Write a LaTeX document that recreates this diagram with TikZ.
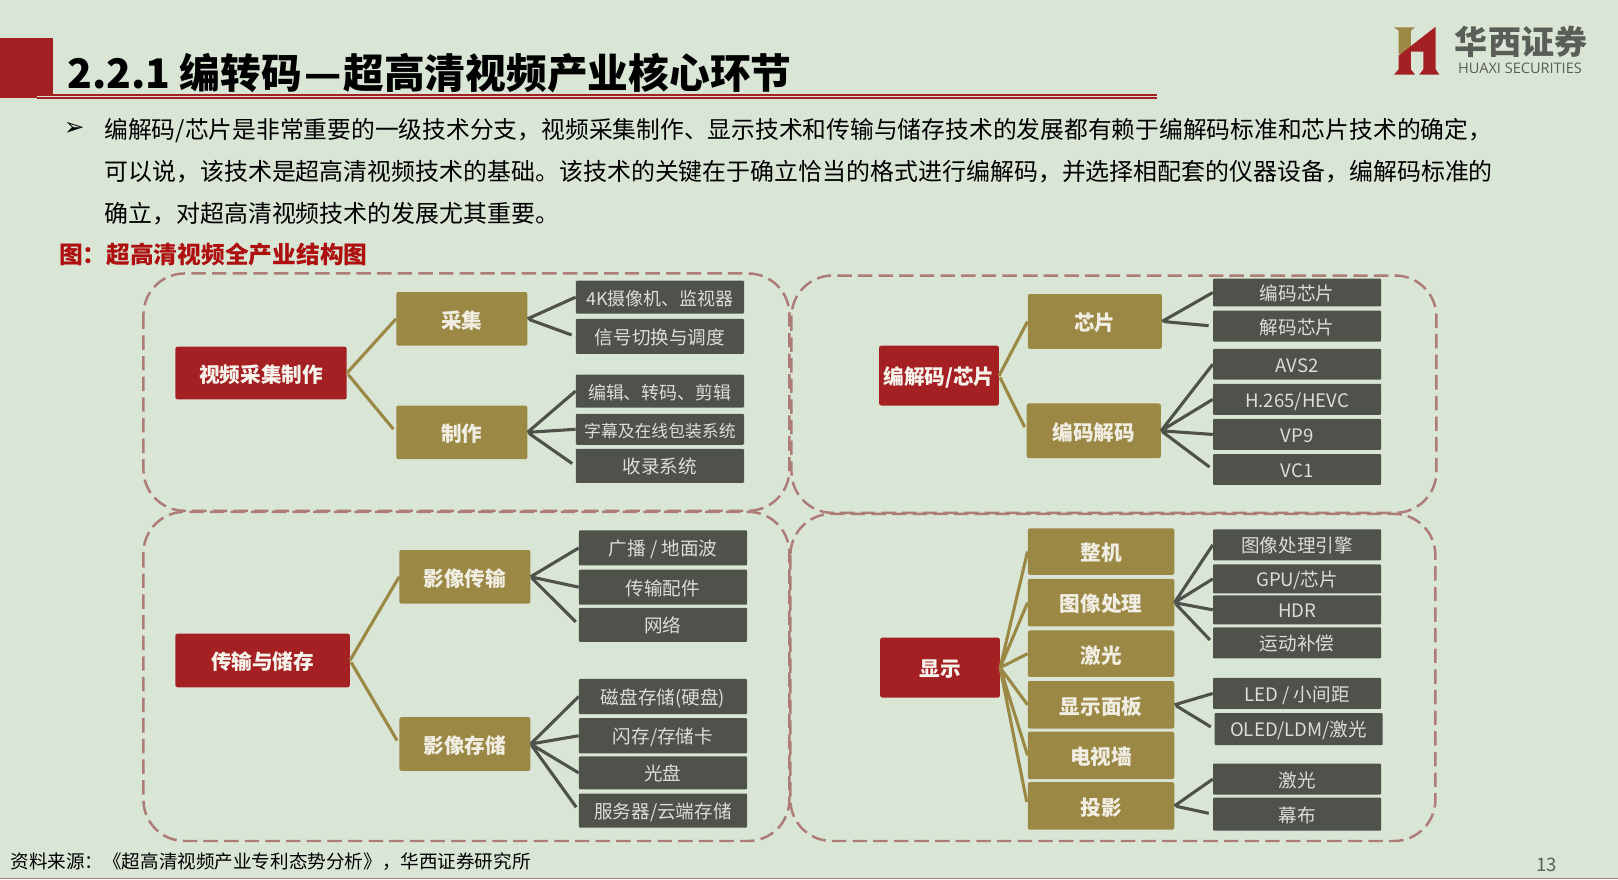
\documentclass[tikz,border=0pt]{standalone}
\usepackage{fontspec,xcolor}
\setmainfont{Noto Sans CJK SC}
\newfontfamily\symfont{DejaVu Sans}
\newfontfamily\latinfont{Open Sans}
\definecolor{bgcol}{RGB}{217,230,214}
\definecolor{redcol}{RGB}{165,32,34}
\definecolor{goldcol}{RGB}{155,136,69}
\definecolor{darkcol}{RGB}{79,82,75}
\definecolor{dashcol}{RGB}{174,124,118}
\definecolor{capcol}{RGB}{174,15,15}
\definecolor{logocol}{RGB}{90,94,88}
\tikzset{
    panel/.style={draw=dashcol,line width=2.4pt,rounded corners=40pt,dash pattern=on 14pt off 6pt},
    redbox/.style={fill=redcol,rounded corners=2pt,inner sep=0pt,text height=19pt,text depth=1pt,text=white!90!goldcol,font=\fontsize{20}{24}\selectfont\bfseries},
    goldbox/.style={fill=goldcol,rounded corners=2pt,inner sep=0pt,text height=19pt,text depth=1pt,text=white!85!goldcol,font=\fontsize{20}{24}\selectfont\bfseries},
    leafbox/.style={fill=darkcol,rounded corners=1pt,inner sep=0pt,text height=16.6pt,text depth=1.2pt,text=white!80!darkcol,minimum width=163pt,font=\fontsize{18}{22}\selectfont},
    goldline/.style={draw=goldcol,line width=3pt,shorten <=2pt,shorten >=4pt},
    darkline/.style={draw=darkcol,line width=3pt,shorten <=2pt,shorten >=4pt},
    bodytext/.style={anchor=base west,inner sep=0pt,font=\fontsize{23.2}{28}\selectfont}
}
\begin{document}
\begin{tikzpicture}[x=1pt,y=-1pt]
    \useasboundingbox[fill=bgcol] (0,0) rectangle (1568,852);
    % heading
    \fill[redcol] (0,37) rectangle (51,95);
    \coordinate (rule-l) at (36,93.5);
    \coordinate (rule-r) at (1121,93.5);
    \draw[redcol,line width=2.2pt,double=bgcol,double distance=.6pt] (rule-l) -- (rule-r);
    \node[anchor=west,inner sep=0pt,font=\fontsize{39.5}{44}\selectfont\bfseries] (title) at (65,71) {2.2.1 编转码\kern2pt—\kern2pt超高清视频产业核心环节};
    \node[font=\fontsize{24}{26}\selectfont\symfont] (bullet) at (72,125) {➢};
    \node[bodytext,font=\fontsize{23.03}{28}\selectfont] (line1) at (101,134) {编解码/芯片是非常重要的一级技术分支，视频采集制作、显示技术和传输与储存技术的发展都有赖于编解码标准和芯片技术的确定，};
    \node[bodytext] (line2) at (101,175) {可以说，该技术是超高清视频技术的基础。该技术的关键在于确立恰当的格式进行编解码，并选择相配套的仪器设备，编解码标准的};
    \node[bodytext] (line3) at (101,216) {确立，对超高清视频技术的发展尤其重要。};
    \node[anchor=west,inner sep=0pt,text=capcol,font=\fontsize{23}{28}\selectfont\bfseries] (caption) at (57,247) {图：超高清视频全产业结构图};
    % logo
    \begin{scope}[shift={(1259.8,0)},x=.323pt,y=-.323pt]
        \fill[goldcol] (282,82) -- (345,82) -- (333,92) -- (333,146) -- (296,164) -- (296,92) -- cycle;
        \fill[redcol] (296,167) -- (407,80) -- (407,208) -- (418,224) -- (358,224) -- (370,208) -- (370,155) -- (333,155) -- (333,208) -- (345,224) -- (282,224) -- (296,208) -- cycle;
    \end{scope}
    \node[text=logocol,inner sep=0pt,font=\fontsize{32}{36}\selectfont\bfseries] (logo-cn) at (1474,41) {华西证券};
    \node[text=logocol,inner sep=0pt,font=\fontsize{14.1}{16}\selectfont\latinfont] (logo-en) at (1473,66) {HUAXI SECURITIES};
    % panels
    \draw[panel] (139,265) rectangle (765,495);
    \draw[panel] (767,267) rectangle (1392,497);
    \draw[panel] (139,496) rectangle (765,815);
    \draw[panel] (766,498) rectangle (1391,815);
    % top left
    \node[redbox,minimum width=166pt,minimum height=51pt] (capture) at (253,361.5) {视频采集制作};
    \node[goldbox,minimum width=127pt,minimum height=52pt] (collect) at (447.5,309) {采集};
    \node[goldbox,minimum width=127pt,minimum height=52pt] (make) at (447.5,419) {制作};
    \node[leafbox,minimum height=32pt,font=\fontsize{17.4}{22}\selectfont] (camera) at (639.5,288) {4K摄像机、监视器};
    \node[leafbox,minimum height=34pt] (switch) at (639.5,326) {信号切换与调度};
    \node[leafbox,minimum height=32pt,font=\fontsize{17.4}{22}\selectfont] (edit) at (639.5,379) {编辑、转码、剪辑};
    \node[leafbox,minimum height=30pt,font=\fontsize{16.3}{20}\selectfont] (subtitle) at (639.5,416) {字幕及在线包装系统};
    \node[leafbox,minimum height=33pt] (record) at (639.5,451.5) {收录系统};
    \draw[goldline] (capture.east) -- (collect.west) (capture.east) -- (make.west);
    \draw[darkline] (collect.east) -- (camera.west) (collect.east) -- (switch.west);
    \draw[darkline] (make.east) -- (edit.west) (make.east) -- (subtitle.west) (make.east) -- (record.west);
    % top right
    \node[redbox,minimum width=116pt,minimum height=58pt] (codec) at (910,364) {编解码/芯片};
    \node[goldbox,minimum width=130pt,minimum height=53pt] (chip) at (1061,311.5) {芯片};
    \node[goldbox,minimum width=130pt,minimum height=53pt] (coding) at (1060,417.5) {编码解码};
    \node[leafbox,minimum height=27pt] (encchip) at (1257,283.5) {编码芯片};
    \node[leafbox,minimum height=30pt] (decchip) at (1257,316) {解码芯片};
    \node[leafbox,minimum height=30pt] (avs) at (1257,353) {AVS2};
    \node[leafbox,minimum height=30pt] (hevc) at (1257,387) {H.265/HEVC};
    \node[leafbox,minimum height=30pt] (vpnine) at (1257,421) {VP9};
    \node[leafbox,minimum height=30pt] (vcone) at (1257,455) {VC1};
    \draw[goldline] (codec.east) -- (chip.west) (codec.east) -- (coding.west);
    \draw[darkline] (chip.east) -- (encchip.west) (chip.east) -- (decchip.west);
    \draw[darkline] (coding.east) -- (avs.west) (coding.east) -- (hevc.west) (coding.east) -- (vpnine.west) (coding.east) -- (vcone.west);
    % bottom left
    \node[redbox,minimum width=169pt,minimum height=52pt] (transfer) at (254.5,640) {传输与储存};
    \node[goldbox,minimum width=127pt,minimum height=52pt] (trans) at (450.5,559) {影像传输};
    \node[goldbox,minimum width=127pt,minimum height=52pt] (store) at (450.5,721) {影像存储};
    \node[leafbox,minimum height=34pt] (air) at (642.5,531) {广播 / 地面波};
    \node[leafbox,minimum height=34pt] (parts) at (642.5,569) {传输配件};
    \node[leafbox,minimum height=33pt] (net) at (642.5,605.5) {网络};
    \node[leafbox,minimum height=34pt] (disk) at (642.5,675) {磁盘存储(硬盘)};
    \node[leafbox,minimum height=34pt] (flash) at (642.5,713) {闪存/存储卡};
    \node[leafbox,minimum height=32pt] (optical) at (642.5,749) {光盘};
    \node[leafbox,minimum height=33pt] (server) at (642.5,785.5) {服务器/云端存储};
    \draw[goldline] (transfer.east) -- (trans.west) (transfer.east) -- (store.west);
    \draw[darkline] (trans.east) -- (air.west) (trans.east) -- (parts.west) (trans.east) -- (net.west);
    \draw[darkline] (store.east) -- (disk.west) (store.east) -- (flash.west) (store.east) -- (optical.west) (store.east) -- (server.west);
    % bottom right
    \node[redbox,minimum width=116pt,minimum height=58pt] (display) at (911,647) {显示};
    \node[goldbox,minimum width=142pt,minimum height=45pt] (whole) at (1067,534.5) {整机};
    \node[goldbox,minimum width=142pt,minimum height=46pt] (image) at (1067,584) {图像处理};
    \node[goldbox,minimum width=142pt,minimum height=45pt] (laser) at (1067,633.5) {激光};
    \node[goldbox,minimum width=142pt,minimum height=46pt] (screen) at (1067,683) {显示面板};
    \node[goldbox,minimum width=142pt,minimum height=46pt] (tvwall) at (1067,732) {电视墙};
    \node[goldbox,minimum width=142pt,minimum height=46pt] (project) at (1067,781) {投影};
    \node[leafbox,minimum height=30pt] (engine) at (1257,528) {图像处理引擎};
    \node[leafbox,minimum height=28pt] (gpu) at (1257,561) {GPU/芯片};
    \node[leafbox,minimum height=28pt] (hdr) at (1257,591) {HDR};
    \node[leafbox,minimum height=30pt] (motion) at (1257,623) {运动补偿};
    \node[leafbox,minimum height=30pt] (led) at (1257,672) {LED / 小间距};
    \node[leafbox,minimum height=31pt] (oled) at (1258.5,706.5) {OLED/LDM/激光};
    \node[leafbox,minimum height=30pt] (laserb) at (1257,755) {激光};
    \node[leafbox,minimum height=32pt] (curtain) at (1257,789) {幕布};
    \draw[goldline] (display.east) -- (whole.west) (display.east) -- (image.west) (display.east) -- (laser.west) (display.east) -- (screen.west) (display.east) -- (tvwall.west) (display.east) -- (project.west);
    \draw[darkline] (image.east) -- (engine.west) (image.east) -- (gpu.west) (image.east) -- (hdr.west) (image.east) -- (motion.west);
    \draw[darkline] (screen.east) -- (led.west) (screen.east) -- (oled.west);
    \draw[darkline] (project.east) -- (laserb.west) (project.east) -- (curtain.west);
    % footer
    \coordinate (foot-l) at (0,851.4);
    \coordinate (foot-r) at (1568,851.4);
    \draw[dashcol,line width=1pt] (foot-l) -- (foot-r);
    \node[anchor=west,inner sep=0pt,font=\fontsize{18}{20}\selectfont] (source) at (10,835) {资料来源：《超高清视频产业专利态势分析》，华西证券研究所};
    \node[text=logocol,inner sep=0pt,font=\fontsize{18}{20}\selectfont] (pagenum) at (1499,838) {13};
\end{tikzpicture}
\end{document}
